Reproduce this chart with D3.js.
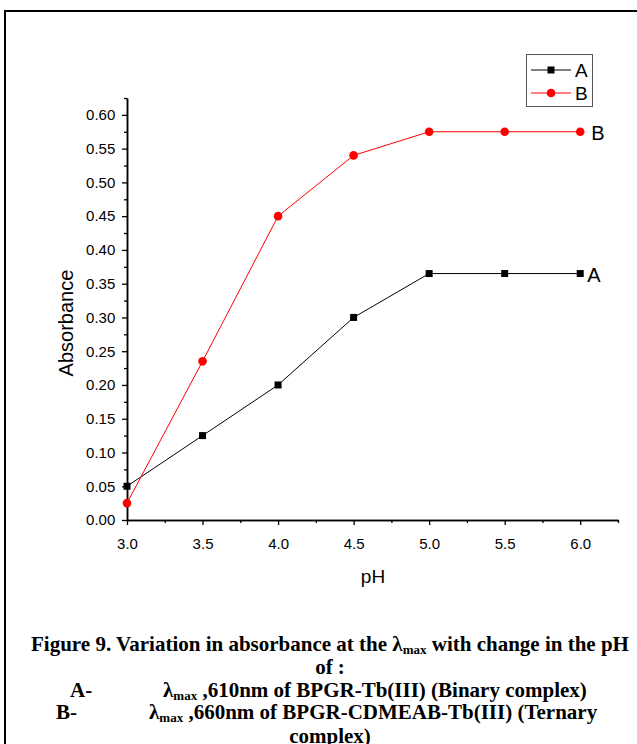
<!DOCTYPE html>
<html>
<head>
<meta charset="utf-8">
<script src="https://cdn.jsdelivr.net/npm/d3@7"></script>
<style>
  body { margin: 0; background: #fff; }
  svg { display: block; }
</style>
</head>
<body>
<div id="chart"></div>
<script>
// pH values and absorbance readings
const phValues = [3.0, 3.5, 4.0, 4.5, 5.0, 5.5, 6.0];
const seriesA = [0.05, 0.125, 0.20, 0.30, 0.365, 0.365, 0.365];
const seriesB = [0.025, 0.235, 0.45, 0.54, 0.575, 0.575, 0.575];
const xTicks = [3.0, 3.5, 4.0, 4.5, 5.0, 5.5, 6.0];
const yTicks = [0, 0.05, 0.10, 0.15, 0.20, 0.25, 0.30, 0.35, 0.40, 0.45, 0.50, 0.55, 0.60];

const sans = "Liberation Sans, Arial, sans-serif";

const svg = d3.select("#chart")
    .append("svg")
    .attr("width", 637)
    .attr("height", 744);

// frame around figure
svg.append("line").attr("x1", 4).attr("x2", 637).attr("y1", 11).attr("y2", 11)
    .attr("stroke", "#000").attr("stroke-width", 2);
svg.append("line").attr("x1", 5).attr("x2", 5).attr("y1", 10).attr("y2", 744)
    .attr("stroke", "#000").attr("stroke-width", 2);

const xScale = d3.scaleLinear().domain([3.0, 6.25]).range([127, 618]);
const yScale = d3.scaleLinear().domain([0, 0.625]).range([520, 98]);

const chart = svg.append("g");

// axes
const xAxis = chart.append("g")
    .attr("transform", "translate(0,520)")
    .call(d3.axisBottom(xScale).tickValues(xTicks).tickFormat(d3.format(".1f")).tickSize(5).tickSizeOuter(0));
const xMinor = chart.append("g")
    .attr("transform", "translate(0,520)")
    .call(d3.axisBottom(xScale).tickValues(d3.range(3.25, 6.3, 0.5)).tickFormat("").tickSize(3).tickSizeOuter(0));
const yAxis = chart.append("g")
    .attr("transform", "translate(127,0)")
    .call(d3.axisLeft(yScale).tickValues(yTicks).tickFormat(d3.format(".2f")).tickSize(5).tickSizeOuter(0));
const yMinor = chart.append("g")
    .attr("transform", "translate(127,0)")
    .call(d3.axisLeft(yScale).tickValues(d3.range(0.025, 0.63, 0.05)).tickFormat("").tickSize(3).tickSizeOuter(0));

[xAxis, xMinor, yAxis, yMinor].forEach(g => {
    g.select(".domain").attr("stroke-width", 1.5);
    g.selectAll(".tick line").attr("stroke-width", 1.3);
    g.selectAll("text").attr("font-family", sans)
        .attr("font-size", 15).attr("fill", "#000");
});
xAxis.selectAll("text").attr("dy", "1.4em");
yAxis.selectAll("text").attr("dx", "-0.25em");

// axis titles
chart.append("text")
    .attr("x", 373).attr("y", 583)
    .attr("text-anchor", "middle")
    .attr("font-family", sans)
    .attr("font-size", 19)
    .text("pH");
chart.append("text")
    .attr("transform", "translate(73,323) rotate(-90)")
    .attr("text-anchor", "middle")
    .attr("font-family", sans)
    .attr("font-size", 20)
    .text("Absorbance");

const line = d3.line()
    .x(d => xScale(d[0]))
    .y(d => yScale(d[1]));

const dataA = phValues.map((p, i) => [p, seriesA[i]]);
const dataB = phValues.map((p, i) => [p, seriesB[i]]);

// series A
chart.append("path").datum(dataA)
    .attr("d", line).attr("fill", "none").attr("stroke", "#000").attr("stroke-width", 1);
chart.selectAll(".ptA").data(dataA).enter().append("rect")
    .attr("x", d => xScale(d[0]) - 3.5).attr("y", d => yScale(d[1]) - 3.5)
    .attr("width", 7).attr("height", 7).attr("fill", "#000");

// series B
chart.append("path").datum(dataB)
    .attr("d", line).attr("fill", "none").attr("stroke", "#f00").attr("stroke-width", 1);
chart.selectAll(".ptB").data(dataB).enter().append("circle")
    .attr("cx", d => xScale(d[0])).attr("cy", d => yScale(d[1]))
    .attr("r", 4.3).attr("fill", "#f00");

// end labels
chart.append("text")
    .attr("x", xScale(6.0) + 11).attr("y", yScale(seriesB[6]) + 8)
    .attr("font-family", sans).attr("font-size", 20)
    .text("B");
chart.append("text")
    .attr("x", xScale(6.0) + 7).attr("y", yScale(seriesA[6]) + 8)
    .attr("font-family", sans).attr("font-size", 20)
    .text("A");

// legend
const legend = svg.append("g");
legend.append("rect")
    .attr("x", 526.5).attr("y", 54.5).attr("width", 66).attr("height", 52)
    .attr("fill", "#fff").attr("stroke", "#555").attr("stroke-width", 1);
const legendItems = [
    {name: "A", color: "#000", shape: "square", y: 70},
    {name: "B", color: "#f00", shape: "circle", y: 93}
];
legendItems.forEach(item => {
    legend.append("line").attr("x1", 531).attr("x2", 571)
        .attr("y1", item.y).attr("y2", item.y)
        .attr("stroke", item.color).attr("stroke-width", 1);
    if (item.shape === "square") {
        legend.append("rect").attr("x", 547.5).attr("y", item.y - 3.5)
            .attr("width", 7).attr("height", 7).attr("fill", item.color);
    } else {
        legend.append("circle").attr("cx", 551).attr("cy", item.y).attr("r", 4.3).attr("fill", item.color);
    }
    legend.append("text").attr("x", 575).attr("y", item.y + 7)
        .attr("font-family", sans).attr("font-size", 19)
        .text(item.name);
});

// caption
const cap = svg.append("g")
    .attr("font-family", "Liberation Serif, Times New Roman, serif")
    .attr("font-weight", "bold")
    .attr("font-size", 21);

function lambda(t) {
    t.append("tspan").text("\u03bb");
    t.append("tspan").attr("font-size", 13).attr("dy", 3).text("max");
}

const l1 = cap.append("text").attr("x", 330).attr("y", 651).attr("text-anchor", "middle");
l1.append("tspan").text("Figure 9. Variation in absorbance at the ");
lambda(l1);
l1.append("tspan").attr("dy", -3).text(" with change in the pH");

cap.append("text").attr("x", 330).attr("y", 674).attr("text-anchor", "middle").text("of :");

cap.append("text").attr("x", 70).attr("y", 697).text("A-");
const l3 = cap.append("text").attr("x", 163).attr("y", 697);
lambda(l3);
l3.append("tspan").attr("dy", -3).text(" ,610nm of BPGR-Tb(III) (Binary complex)");

cap.append("text").attr("x", 56).attr("y", 719).text("B-");
const l4 = cap.append("text").attr("x", 149).attr("y", 719);
lambda(l4);
l4.append("tspan").attr("dy", -3).text(" ,660nm of BPGR-CDMEAB-Tb(III) (Ternary");

cap.append("text").attr("x", 330).attr("y", 743).attr("text-anchor", "middle").text("complex)");
</script>
</body>
</html>
